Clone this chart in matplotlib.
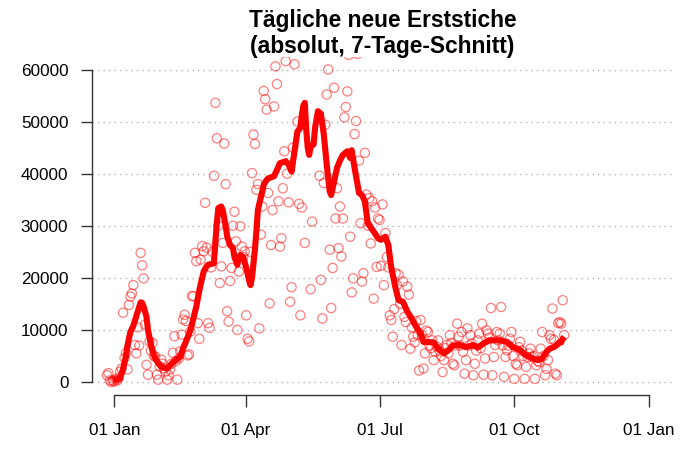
import numpy as np
import pandas as pd
import matplotlib
matplotlib.use("Agg")
import matplotlib.pyplot as plt
import matplotlib.dates as mdates

plt.rcParams['font.family'] = ['Liberation Sans', 'DejaVu Sans']

# Tagesstart der Reihe (Tag 0 = 01.01.2021)
start = pd.Timestamp("2021-01-01")
first_day = -5

# taegliche Erststiche, ab 27.12.2020
daily = [
    1300, 1700, 300, 0, 300, 100, 500, 300, 800, 2000,
    2600, 13300, 4600, 5600, 2400, 14800, 16400, 17000, 18600, 7100,
    5500, 10500, 7000, 24800, 22400, 19900, 11000, 3300, 1400, 7800,
    6000, 7500, 5000, 4900, 1400, 450, 3000, 4300, 3500, 2600,
    2000, 450, 1300, 2400, 3500, 5600, 8800, 4000, 450, 4500,
    5900, 9100, 12000, 12900, 11700, 5100, 5300, 9700, 16500, 16500,
    24800, 23200, 11300, 8300, 23500, 26100, 25100, 34400, 25800, 11300,
    10400, 22000, 25000, 39600, 53600, 46800, 30000, 19000, 22200, 26700,
    45800, 38000, 13600, 11600, 19400, 21900, 30000, 32700, 27000, 10000,
    21200, 29900, 26000, 24000, 25100, 12800, 8300, 7800, 25000, 40100,
    47500, 45700, 36900, 38000, 10300, 28300, 33700, 55900, 54300, 52300,
    36300, 15100, 26300, 33000, 52900, 60600, 57200, 34700, 26000, 27600,
    37200, 44300, 61600, 40000, 34500, 15400, 18200, 45000, 61000, 64000,
    50000, 34200, 12800, 33500, 64000, 26700, 68000, 72000, 66000, 17800,
    30800, 70000, 75000, 68000, 65000, 39600, 19600, 12200, 38200, 49400,
    55200, 60000, 25400, 14200, 21900, 56500, 31400, 37200, 25700, 33700,
    24100, 31400, 50800, 52800, 55800, 62800, 27900, 17200, 19900, 47600,
    50100, 63000, 42500, 30500, 19300, 20900, 44000, 36000, 30000, 35300,
    26600, 34700, 16000, 33500, 22100, 31400, 31100, 22300, 34100, 18600,
    28600, 24000, 22000, 12800, 11900, 8700, 14000, 20900, 18600, 20600,
    15000, 7100, 19300, 12500, 11500, 18300, 16800, 6400, 10500, 8700,
    7600, 11700, 9000, 2200, 11900, 9000, 2600, 5500, 9900, 9600,
    7000, 6500, 8000, 4200, 5800, 6800, 8000, 6000, 5000, 1900,
    4200, 6500, 7100, 5500, 9000, 7500, 3500, 3200, 7000, 11200,
    8700, 7000, 9600, 5800, 1600, 4200, 10300, 7000, 9000, 7400,
    1300, 3500, 6000, 8000, 9300, 6500, 11200, 1400, 4500, 9900,
    9300, 8500, 14200, 1300, 4800, 7100, 9600, 8000, 9300, 14400,
    7000, 1000, 4800, 6100, 7000, 8300, 9600, 5000, 600, 3500,
    3200, 6700, 7700, 6000, 5000, 600, 2900, 4800, 5500, 6400,
    4800, 5000, 600, 3200, 4000, 3800, 6400, 9600, 5000, 1300,
    2500, 4200, 9000, 8300, 14100, 8100, 1600, 1300, 11300, 11500,
    11200, 15700, 9000,
]

avg_day = [-1, 0, 2, 4, 6, 8, 9, 11, 13, 16, 18, 19, 20, 22, 23, 25, 26, 28, 30, 32,
           36, 37, 39, 42, 45, 47, 50, 52, 54, 56, 58, 59, 61, 63, 64, 68, 69, 70, 71, 73,
           74, 76, 77, 79, 81, 82, 84, 85, 86, 88, 90, 92, 93, 94, 96, 97, 98, 100, 101, 102,
           104, 105, 109, 111, 113, 117, 119, 121, 122, 125, 127, 128, 129, 130, 131, 132, 133, 134, 136, 137,
           139, 141, 143, 145, 147, 148, 150, 152, 154, 156, 159, 161, 162, 164, 167, 169, 171, 173, 177, 180,
           182, 185, 187, 189, 192, 194, 197, 200, 203, 206, 209, 211, 213, 218, 221, 225, 228, 231, 236, 240,
           245, 248, 252, 256, 263, 268, 272, 277, 281, 286, 289, 292, 295, 297, 300, 302, 304, 305, 306, 307]
avg_val = [300, 400, 500, 700, 2500, 5000, 7000, 9600, 10800, 13500, 15300, 15200, 14500, 12500, 10000, 7200, 6000, 4500, 3600, 2900,
           2600, 2800, 3500, 4200, 4800, 6500, 8500, 10000, 12200, 14500, 17500, 18800, 21200, 22200, 22500, 22800, 27000, 30500, 33400, 33700,
           33000, 30000, 28000, 26300, 25700, 24000, 22500, 24000, 24400, 24000, 22000, 19500, 18600, 20000, 25500, 29000, 33000, 35500, 36500, 37900,
           38800, 39100, 39500, 40700, 42000, 42400, 41700, 40400, 42400, 48100, 48800, 51300, 53000, 53600, 48500, 45000, 43600, 45200, 45600, 48800,
           52000, 51500, 47500, 41700, 36600, 35900, 38500, 41100, 42500, 43600, 44300, 43000, 44500, 41100, 36300, 35900, 34700, 30500, 28900, 27600,
           27300, 27900, 26300, 22000, 18000, 15700, 15400, 13500, 12200, 10600, 9400, 7700, 7700, 7600, 6400, 5500, 6100, 7000, 7100, 6700,
           7100, 6600, 7400, 8000, 8000, 7700, 6700, 6100, 5100, 4500, 4200, 4500, 5800, 6400, 6700, 7100, 7700, 7600, 8300, 8700]

yticks = [0, 10000, 20000, 30000, 40000, 50000, 60000]
xtick_dates = ["2021-01-01", "2021-04-01", "2021-07-01", "2021-10-01", "2022-01-01"]
xtick_labels = ["01 Jan", "01 Apr", "01 Jul", "01 Oct", "01 Jan"]

pt_dates = start + pd.to_timedelta(np.arange(first_day, first_day + len(daily)), unit="D")
avg_dates = start + pd.to_timedelta(avg_day, unit="D")
xt = [mdates.date2num(pd.Timestamp(d)) for d in xtick_dates]

fig = plt.figure(figsize=(6.8, 4.53), dpi=100)
ax = fig.add_axes([92/680, (453-394.5)/453, 580/680, 337.5/453])

for v in yticks:
    ax.axhline(v, color='#b4b4b4', lw=1.0, ls=(0, (1, 3)), zorder=1)

ax.scatter(pt_dates, daily, s=44, facecolors='none', edgecolors=(1, 0, 0, 0.5),
           linewidths=0.9, zorder=2)
ax.plot(avg_dates, avg_val, color='red', lw=4.4, zorder=3,
        solid_joinstyle='round', solid_capstyle='butt')

ax.set_xlim(xt[0] - 15.2, xt[0] + 380.6)
ax.set_ylim(-2400, 62400)

for s in ['top', 'right']:
    ax.spines[s].set_visible(False)
ax.spines['left'].set_bounds(0, 60000)
ax.spines['bottom'].set_bounds(xt[0], xt[-1])
for s in ['left', 'bottom']:
    ax.spines[s].set_color('#333333')
    ax.spines[s].set_linewidth(1.0)

ax.set_yticks(yticks)
ax.set_yticklabels([str(v) for v in yticks])
ax.set_xticks(xt)
ax.set_xticklabels(xtick_labels)
ax.tick_params(axis='y', length=8, width=1.0, color='#333333', pad=9, labelsize=12.3)
ax.tick_params(axis='x', length=8.6, width=1.0, color='#333333', pad=12, labelsize=12.3)

fig.text(0.5625, 1 - 8.5/453, "Tägliche neue Erststiche\n(absolut, 7-Tage-Schnitt)",
         ha='center', va='top', fontsize=16.4, fontweight='bold', linespacing=1.17)

fig.savefig("out.png", dpi=100)
